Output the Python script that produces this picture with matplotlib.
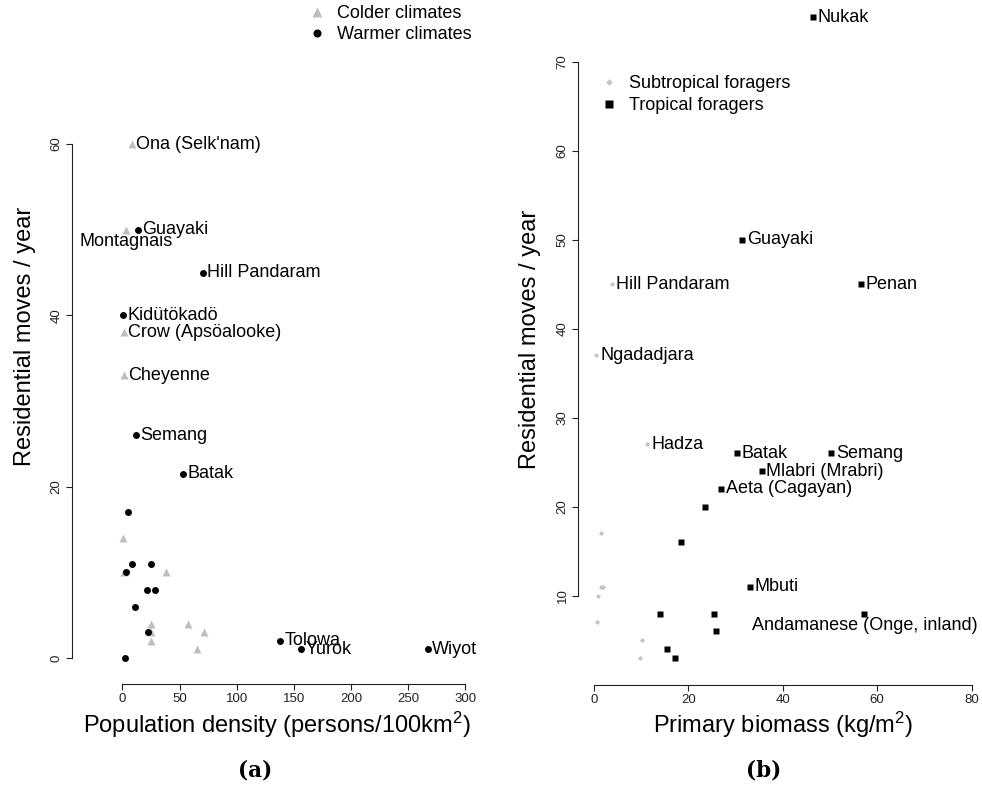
import matplotlib
matplotlib.use("Agg")
import matplotlib.pyplot as plt
from matplotlib.lines import Line2D

plt.rcParams["font.family"] = ["Liberation Sans", "DejaVu Sans"]
plt.rcParams["mathtext.fontset"] = "custom"
plt.rcParams["mathtext.rm"] = "Liberation Sans"
plt.rcParams["mathtext.it"] = "Liberation Sans:italic"
plt.rcParams["mathtext.bf"] = "Liberation Sans:bold"

# ---- Panel (a): population density vs. residential moves ----
cold_density = [8.3, 3.0, 1.3, 1.3, 0.2, 1.0, 38.4, 25.0, 57.6, 71.6, 25.0, 25.0, 65.2]
cold_moves = [60, 50, 38, 33, 14, 10, 10, 4, 4, 3, 3, 2, 1]
cold_names = ["Ona (Selk'nam)", "Montagnais", "Crow (Apsöalooke)", "Cheyenne",
              "", "", "", "", "", "", "", "", ""]

warm_density = [13.6, 70.5, 0.4, 11.8, 53.0, 5.1, 8.0, 25.0, 3.1, 21.7, 28.2,
                10.7, 22.0, 2.5, 137.9, 156.3, 267.2]
warm_moves = [50, 45, 40, 26, 21.5, 17, 11, 11, 10, 8, 8, 6, 3, 0, 2, 1, 1]
warm_names = ["Guayaki", "Hill Pandaram", "Kidütökadö", "Semang", "Batak",
              "", "", "", "", "", "", "", "", "", "Tolowa", "Yurok", "Wiyot"]

# ---- Panel (b): primary biomass vs. residential moves ----
trop_biomass = [46.4, 31.4, 56.6, 30.4, 50.3, 35.6, 27.0, 23.6, 18.4, 33.1,
                13.9, 25.5, 57.3, 25.8, 15.5, 17.2]
trop_moves = [75, 50, 45, 26, 26, 24, 22, 20, 16, 11, 8, 8, 8, 6, 4, 3]
trop_names = ["Nukak", "Guayaki", "Penan", "Batak", "Semang", "Mlabri (Mrabri)",
              "Aeta (Cagayan)", "", "", "Mbuti", "", "",
              "Andamanese (Onge, inland)", "", "", ""]

subtrop_biomass = [3.8, 0.4, 11.3, 1.5, 1.4, 2.0, 0.8, 0.6, 10.2, 9.8]
subtrop_moves = [45, 37, 27, 17, 11, 11, 10, 7, 5, 3]
subtrop_names = ["Hill Pandaram", "Ngadadjara", "Hadza", "", "", "", "", "", "", ""]

labels_below = {"Montagnais", "Andamanese (Onge, inland)"}

a_xticks = [0, 50, 100, 150, 200, 250, 300]
a_yticks = [0, 20, 40, 60]
b_xticks = [0, 20, 40, 60, 80]
b_yticks = [10, 20, 30, 40, 50, 60, 70]

GRAY = "#bebebe"
LIGHT = "#c4c4c4"
LABEL_FS = 13
TICK_FS = 9.5
AXLABEL_FS = 17

W, H = 982, 789
fig = plt.figure(figsize=(W / 100, H / 100), dpi=100)


def px_axes(left, top, right, bottom):
    return fig.add_axes([left / W, 1 - bottom / H, (right - left) / W, (bottom - top) / H])


def style_axes(ax, xticks, yticks):
    for s in ("top", "right"):
        ax.spines[s].set_visible(False)
    ax.spines["left"].set_bounds(yticks[0], yticks[-1])
    ax.spines["bottom"].set_bounds(xticks[0], xticks[-1])
    for s in ("left", "bottom"):
        ax.spines[s].set_linewidth(0.8)
        ax.spines[s].set_color("#222222")
    ax.set_xticks(xticks)
    ax.set_yticks(yticks)
    ax.tick_params(axis="both", length=4.3, width=0.8, color="#222222",
                   labelsize=TICK_FS, labelcolor="#222222")
    ax.tick_params(axis="x", pad=2.2)
    ax.tick_params(axis="y", pad=2.4, labelrotation=90)
    for lab in ax.get_yticklabels():
        lab.set_va("center")
    ax.patch.set_visible(False)


def label_points(ax, xs, ys, names):
    for x, y, name in zip(xs, ys, names):
        if not name:
            continue
        if name in labels_below:
            ax.annotate(name, (x, y), xytext=(0, -8.4), textcoords="offset points",
                        ha="center", va="center", fontsize=LABEL_FS, annotation_clip=False)
        else:
            ax.annotate(name, (x, y), xytext=(3.2, 0), textcoords="offset points",
                        ha="left", va="center", fontsize=LABEL_FS, annotation_clip=False)


# Panel (a)
ax1 = px_axes(72, 110, 480, 684)
ax1.set_xlim(-44.2, 313.0)
ax1.set_ylim(-3.03, 63.97)
style_axes(ax1, a_xticks, a_yticks)
ax1.plot(cold_density, cold_moves, ls="none", marker="^", ms=5.6, color=GRAY,
         mec="none", clip_on=False)
ax1.plot(warm_density, warm_moves, ls="none", marker="o", ms=5.0, color="black",
         mec="none", clip_on=False)
label_points(ax1, cold_density, cold_moves, cold_names)
label_points(ax1, warm_density, warm_moves, warm_names)

leg1 = ax1.legend(
    handles=[Line2D([], [], ls="none", marker="^", ms=7, color=GRAY, mec="none"),
             Line2D([], [], ls="none", marker="o", ms=5.8, color="black", mec="none")],
    labels=["Colder climates", "Warmer climates"],
    loc="upper left", bbox_to_anchor=(308 / W, 1 - 5.5 / H), bbox_transform=fig.transFigure,
    frameon=False, fontsize=LABEL_FS, handlelength=1.0, handletextpad=0.6,
    borderpad=0, borderaxespad=0, labelspacing=0.22)

# Panel (b)
ax2 = px_axes(578, 10, 980, 685)
ax2.set_xlim(-3.39, 81.78)
ax2.set_ylim(-0.03, 75.81)
style_axes(ax2, b_xticks, b_yticks)
ax2.plot(subtrop_biomass, subtrop_moves, ls="none", marker="D", ms=2.6, color=LIGHT,
         mec="none", clip_on=False)
ax2.plot(trop_biomass, trop_moves, ls="none", marker="s", ms=5.0, color="black",
         mec="none", clip_on=False)
label_points(ax2, subtrop_biomass, subtrop_moves, subtrop_names)
label_points(ax2, trop_biomass, trop_moves, trop_names)

leg2 = ax2.legend(
    handles=[Line2D([], [], ls="none", marker="D", ms=3.4, color=LIGHT, mec="none"),
             Line2D([], [], ls="none", marker="s", ms=5.8, color="black", mec="none")],
    labels=["Subtropical foragers", "Tropical foragers"],
    loc="upper left", bbox_to_anchor=(600 / W, 1 - 75.5 / H), bbox_transform=fig.transFigure,
    frameon=False, fontsize=LABEL_FS, handlelength=1.0, handletextpad=0.6,
    borderpad=0, borderaxespad=0, labelspacing=0.25)

# Axis titles and panel captions
def fig_text(px, py, s, **kw):
    fig.text(px / W, 1 - py / H, s, ha="center", va="center", **kw)


fig_text(25, 336, "Residential moves / year", rotation=90, fontsize=AXLABEL_FS)
fig_text(530, 339, "Residential moves / year", rotation=90, fontsize=AXLABEL_FS)
fig_text(277, 725, "Population density (persons/100km$^{2}$)", fontsize=AXLABEL_FS)
fig_text(783, 725, "Primary biomass (kg/m$^{2}$)", fontsize=AXLABEL_FS)
fig_text(255, 770, "(a)", fontsize=15.5, family="DejaVu Serif", weight="bold")
fig_text(764, 770, "(b)", fontsize=15.5, family="DejaVu Serif", weight="bold")

fig.savefig("out.png", dpi=100)
